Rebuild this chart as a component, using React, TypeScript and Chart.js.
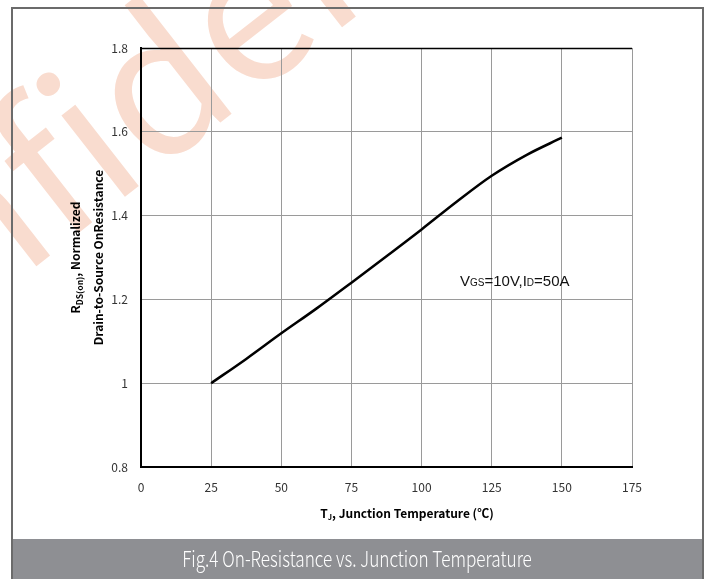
import React, { useEffect, useRef } from "react";
import { Chart, registerables } from "chart.js";

Chart.register(...registerables);

// ---- data ----
const temperatures = [25, 37.5, 50, 62.5, 75, 87.5, 100, 112.5, 125, 137.5, 150];
const rdsNormalized = [1.0, 1.058, 1.119, 1.178, 1.24, 1.303, 1.367, 1.433, 1.495, 1.545, 1.586];
const xRange = [0, 175];
const xStep = 25;
const yRange = [0.8, 1.8];
const yStep = 0.2;
const captionText = "Fig.4 On-Resistance vs. Junction Temperature";
const watermarkText = "Confidential";

type Seg = { t: string; font: string; dy?: number };

function segWidth(ctx: CanvasRenderingContext2D, segs: Seg[]) {
  let w = 0;
  for (const s of segs) {
    ctx.font = s.font;
    w += ctx.measureText(s.t).width;
  }
  return w;
}

function drawSegs(ctx: CanvasRenderingContext2D, segs: Seg[], x: number, y: number, align: "left" | "center") {
  const total = segWidth(ctx, segs);
  let cx = align === "center" ? x - total / 2 : x;
  ctx.textAlign = "left";
  ctx.textBaseline = "alphabetic";
  for (const s of segs) {
    ctx.font = s.font;
    ctx.fillText(s.t, cx, y + (s.dy || 0));
    cx += ctx.measureText(s.t).width;
  }
}

const CJK = '"Noto Sans CJK SC", "Noto Sans", sans-serif';
const ARIAL = '"Liberation Sans", Arial, sans-serif';

const decorPlugin = {
  id: "decor",
  beforeDraw(chart: any) {
    const ctx: CanvasRenderingContext2D = chart.ctx;
    const W = chart.width;
    const H = chart.height;
    ctx.save();
    ctx.fillStyle = "#ffffff";
    ctx.fillRect(0, 0, W, H);
    // watermark
    ctx.save();
    ctx.translate(170, 70);
    ctx.rotate((-38 * Math.PI) / 180);
    ctx.font = `190px ${CJK}`;
    ctx.fillStyle = "#f9dccf";
    ctx.textAlign = "center";
    ctx.textBaseline = "middle";
    ctx.fillText(watermarkText, 0, 0);
    ctx.restore();
    // caption bar
    ctx.fillStyle = "#8e8f93";
    ctx.fillRect(12, 539, 691, H - 539);
    ctx.save();
    ctx.translate(357, 559);
    ctx.scale(0.78, 1);
    ctx.fillStyle = "#ffffff";
    ctx.font = `300 22px ${CJK}`;
    ctx.textAlign = "center";
    ctx.textBaseline = "middle";
    ctx.fillText(captionText, 0, 0);
    ctx.restore();
    // frame
    ctx.strokeStyle = "#6b6b6b";
    ctx.lineWidth = 2;
    ctx.beginPath();
    ctx.moveTo(12, H);
    ctx.lineTo(12, 8);
    ctx.lineTo(703, 8);
    ctx.lineTo(703, H);
    ctx.stroke();
    ctx.restore();
  },
  afterDraw(chart: any) {
    const ctx: CanvasRenderingContext2D = chart.ctx;
    const a = chart.chartArea;
    ctx.save();
    // top border
    ctx.strokeStyle = "#000";
    ctx.lineWidth = 1.5;
    ctx.beginPath();
    ctx.moveTo(a.left, a.top + 0.5);
    ctx.lineTo(a.right, a.top + 0.5);
    ctx.stroke();
    ctx.fillStyle = "#000";
    // y title
    const cy = (a.top + a.bottom) / 2;
    ctx.save();
    ctx.translate(80, cy);
    ctx.rotate(-Math.PI / 2);
    drawSegs(
      ctx,
      [
        { t: "R", font: `bold 12px ${CJK}` },
        { t: "DS(on)", font: `bold 8.5px ${CJK}`, dy: 3 },
        { t: ", Normalized", font: `bold 12px ${CJK}` },
      ],
      0,
      0,
      "center"
    );
    ctx.restore();
    ctx.save();
    ctx.translate(103, cy);
    ctx.rotate(-Math.PI / 2);
    drawSegs(ctx, [{ t: "Drain-to-Source OnResistance", font: `bold 12px ${CJK}` }], 0, 0, "center");
    ctx.restore();
    // x title
    drawSegs(
      ctx,
      [
        { t: "T", font: `bold 12px ${CJK}` },
        { t: "J", font: `bold 7.5px ${CJK}`, dy: 2 },
        { t: ", Junction Temperature (℃)", font: `bold 12px ${CJK}` },
      ],
      407,
      518,
      "center"
    );
    // annotation
    ctx.fillStyle = "#111";
    drawSegs(
      ctx,
      [
        { t: "V", font: `15px ${ARIAL}` },
        { t: "GS", font: `10px ${ARIAL}` },
        { t: "=10V,I", font: `15px ${ARIAL}` },
        { t: "D", font: `10px ${ARIAL}` },
        { t: "=50A", font: `15px ${ARIAL}` },
      ],
      460,
      286,
      "left"
    );
    ctx.restore();
  },
};

export default function App() {
  const ref = useRef<HTMLCanvasElement>(null);
  useEffect(() => {
    if (!ref.current) return;
    const points = temperatures.map((t, i) => ({ x: t, y: rdsNormalized[i] }));
    const chart = new Chart(ref.current, {
      type: "line",
      data: {
        datasets: [
          {
            data: points,
            borderColor: "#000",
            borderWidth: 2.5,
            pointRadius: 0,
            tension: 0.4,
            cubicInterpolationMode: "monotone",
            fill: false,
          },
        ],
      },
      options: {
        animation: false,
        responsive: false,
        devicePixelRatio: 1,
        layout: { padding: { left: 0, top: 48, right: 79, bottom: 0 } },
        plugins: { legend: { display: false }, tooltip: { enabled: false } },
        scales: {
          x: {
            type: "linear",
            min: xRange[0],
            max: xRange[1],
            ticks: {
              stepSize: xStep,
              padding: 13,
              color: "#333",
              font: { family: CJK, size: 12 },
              maxRotation: 0,
            },
            grid: { color: "#9a9a9a", lineWidth: 1, drawTicks: false, tickLength: 0 },
            border: { color: "#000", width: 2 },
            afterFit(scale: any) {
              scale.height = 579 - 467;
            },
          },
          y: {
            type: "linear",
            min: yRange[0],
            max: yRange[1],
            ticks: {
              stepSize: yStep,
              padding: 13,
              color: "#333",
              font: { family: CJK, size: 12 },
              callback: (v: any) => String(Number(Number(v).toFixed(1))),
            },
            grid: { color: "#9a9a9a", lineWidth: 1, drawTicks: false, tickLength: 0 },
            border: { color: "#000", width: 2 },
            afterFit(scale: any) {
              scale.width = 141;
            },
          },
        },
      },
      plugins: [decorPlugin],
    } as any);
    return () => chart.destroy();
  }, []);
  return (
    <div style={{ position: "absolute", left: 0, top: 0, width: 711, height: 579 }}>
      <canvas ref={ref} width={711} height={579} style={{ width: 711, height: 579, display: "block" }} />
    </div>
  );
}
